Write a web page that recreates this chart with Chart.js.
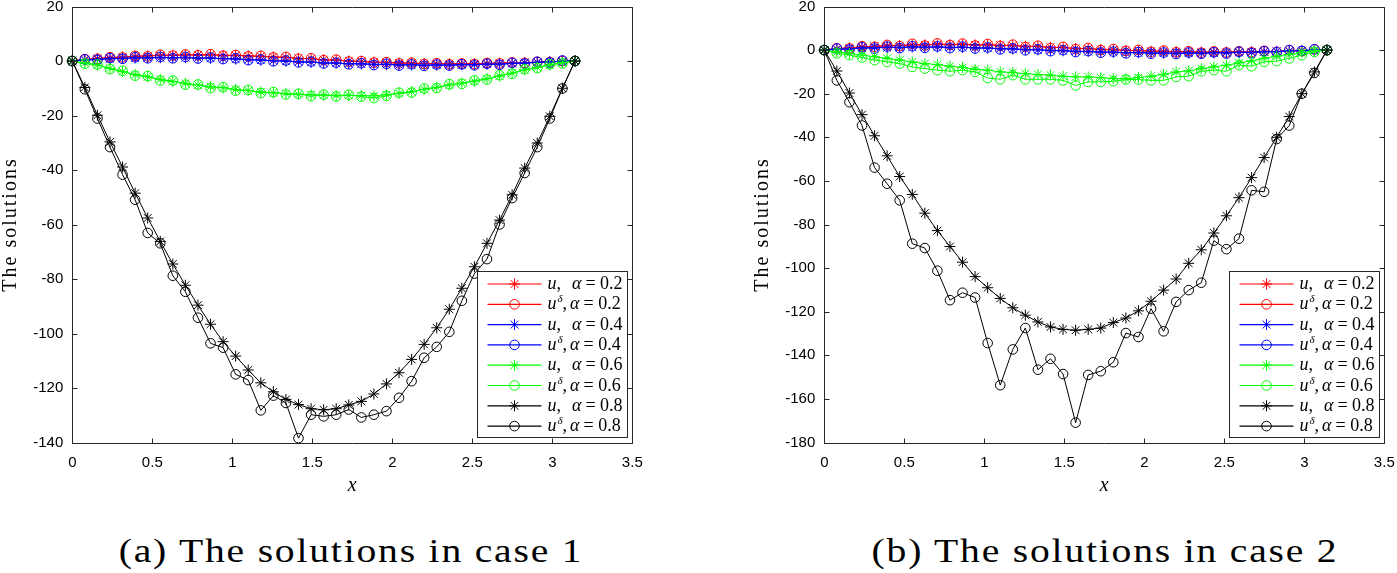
<!DOCTYPE html>
<html>
<head>
<meta charset="utf-8">
<script src="https://cdn.jsdelivr.net/npm/chart.js@4/dist/chart.umd.min.js"></script>
<style>
  body { margin: 0; background: #fff; width: 1397px; height: 573px; overflow: hidden; position: relative; }
  .plot { position: absolute; top: 0; height: 500px; }
  #wrapA { left: 0; width: 680px; }
  #wrapB { left: 752px; width: 645px; }
  .cap { position: absolute; top: 533px; font-family: "Liberation Serif", serif; font-size: 33px; line-height: 36px;
         letter-spacing: 1.5px; white-space: nowrap; transform: translateX(-50%) scaleX(1.2); color: #000; }
</style>
</head>
<body>
<div class="plot" id="wrapA"><canvas id="chartA"></canvas></div>
<div class="plot" id="wrapB"><canvas id="chartB"></canvas></div>
<div class="cap" style="left:351px">(a) The solutions in case 1</div>
<div class="cap" style="left:1105px">(b) The solutions in case 2</div>
<script>
// grid points x_k = k*pi/40, k = 0..40
const xs = [0, 0.0785, 0.1571, 0.2356, 0.3142, 0.3927, 0.4712, 0.5498, 0.6283, 0.7069, 0.7854,
  0.8639, 0.9425, 1.0210, 1.0996, 1.1781, 1.2566, 1.3352, 1.4137, 1.4923, 1.5708,
  1.6493, 1.7279, 1.8064, 1.8850, 1.9635, 2.0420, 2.1206, 2.1991, 2.2777, 2.3562,
  2.4347, 2.5133, 2.5918, 2.6704, 2.7489, 2.8274, 2.9060, 2.9845, 3.0631, 3.1416];

const labels = ['0.2', '0.2', '0.4', '0.4', '0.6', '0.6', '0.8', '0.8'];
const colors = ['#ff0000', '#ff0000', '#0000ff', '#0000ff', '#00ff00', '#00ff00', '#000000', '#000000'];

// case 1
const a_u02 = [0, 0.5, 0.9, 1.2, 1.5, 1.7, 1.9, 2.0, 2.1, 2.2, 2.2, 2.2, 2.1, 2.0, 1.9, 1.7, 1.5, 1.3, 1.0, 0.8, 0.5,
  0.3, 0.0, -0.2, -0.4, -0.6, -0.7, -0.8, -0.9, -1.0, -1.0, -1.0, -1.0, -0.9, -0.8, -0.7, -0.6, -0.5, -0.3, -0.2, 0];
const a_ud02 = [0, 0.7, 0.8, 1.4, 1.3, 1.9, 1.7, 2.3, 2.0, 2.4, 2.1, 2.5, 1.9, 2.2, 1.7, 1.9, 1.3, 1.5, 0.8, 1.0, 0.3,
  0.5, -0.2, 0.0, -0.6, -0.4, -0.9, -0.6, -1.1, -0.8, -1.2, -0.9, -1.1, -0.7, -0.9, -0.5, -0.7, -0.3, -0.4, 0.0, 0];
const a_u04 = [0, 0.3, 0.6, 0.8, 1.0, 1.1, 1.2, 1.2, 1.2, 1.2, 1.1, 1.0, 0.9, 0.7, 0.5, 0.3, 0.1, -0.1, -0.3, -0.5, -0.7,
  -0.8, -1.0, -1.1, -1.2, -1.3, -1.4, -1.4, -1.5, -1.5, -1.5, -1.4, -1.3, -1.2, -1.1, -0.9, -0.7, -0.5, -0.3, -0.1, 0];
const a_ud04 = [0, 0.6, 0.4, 1.1, 0.8, 1.4, 1.0, 1.5, 1.0, 1.5, 0.9, 1.3, 0.7, 1.0, 0.3, 0.6, -0.1, 0.2, -0.5, -0.2, -0.9,
  -0.6, -1.2, -0.8, -1.5, -1.0, -1.7, -1.2, -1.8, -1.3, -1.7, -1.2, -1.6, -1.0, -1.4, -0.7, -1.0, -0.3, -0.6, 0.2, 0];
const a_u06 = [0, -0.7, -1.5, -2.7, -3.9, -5.0, -5.8, -6.7, -7.5, -8.2, -8.8, -9.4, -9.8, -10.4, -10.9, -11.3, -11.7, -11.9, -12.2, -12.4, -12.5,
  -12.6, -12.6, -12.7, -12.8, -12.4, -11.9, -11.2, -10.4, -9.6, -8.8, -8.1, -7.4, -6.5, -5.5, -4.4, -3.3, -2.3, -1.5, -0.6, 0];
const a_ud06 = [0, -1.0, -1.3, -3.0, -3.6, -5.4, -5.5, -7.2, -7.2, -8.7, -8.6, -10.0, -9.6, -10.9, -10.6, -11.8, -11.4, -12.3, -12.0, -12.9, -12.3,
  -13.0, -12.4, -13.1, -13.6, -12.8, -11.6, -11.6, -10.1, -9.9, -8.5, -8.4, -7.1, -6.8, -5.2, -4.7, -3.0, -2.6, -1.2, -0.9, 0];
const a_u08 = [0, -9.7, -19.9, -29.7, -38.9, -48.5, -57.6, -66.2, -74.5, -82.3, -89.6, -96.6, -103.0, -108.3, -113.4, -118.1, -121.4, -124.2, -126.1, -127.6, -128.0,
  -127.6, -126.2, -124.9, -122.2, -118.5, -114.4, -109.5, -104.0, -97.9, -91.1, -83.4, -75.5, -66.9, -58.4, -49.1, -39.3, -30.1, -20.3, -10.0, 0];
const a_ud08 = [0, -10.4, -21.1, -31.6, -41.7, -50.9, -63.1, -66.9, -78.8, -84.7, -94.2, -103.6, -105.2, -115.0, -117.1, -128.2, -122.8, -125.5, -138.4, -129.8, -130.4,
  -129.8, -127.9, -130.8, -129.8, -128.5, -123.6, -117.5, -108.9, -104.9, -99.4, -88.0, -78.0, -72.7, -60.0, -50.3, -41.1, -31.6, -21.1, -10.1, 0];

// case 2
const b_u02 = [0, 0.6, 1.0, 1.4, 1.7, 1.9, 2.1, 2.3, 2.4, 2.5, 2.5, 2.5, 2.4, 2.3, 2.2, 2.0, 1.8, 1.6, 1.3, 1.1, 0.8,
  0.6, 0.3, 0.1, -0.1, -0.3, -0.5, -0.6, -0.7, -0.8, -0.9, -0.9, -0.9, -0.9, -0.8, -0.7, -0.6, -0.5, -0.3, -0.2, 0];
const b_ud02 = [0, 0.9, 0.8, 1.8, 1.5, 2.4, 1.8, 2.9, 2.1, 3.1, 2.3, 3.0, 2.1, 2.8, 1.9, 2.5, 1.4, 2.0, 0.9, 1.5, 0.4,
  1.0, 0.0, 0.5, -0.4, 0.1, -0.8, -0.2, -1.0, -0.5, -1.2, -0.6, -1.1, -0.5, -1.0, -0.3, -0.8, 0.0, -0.5, 0.3, 0];
const b_u04 = [0, 0.3, 0.6, 0.9, 1.1, 1.2, 1.3, 1.4, 1.4, 1.4, 1.3, 1.2, 1.1, 0.9, 0.7, 0.5, 0.3, 0.1, -0.1, -0.3, -0.5,
  -0.7, -0.8, -1.0, -1.1, -1.2, -1.3, -1.4, -1.4, -1.4, -1.4, -1.3, -1.2, -1.1, -1.0, -0.8, -0.6, -0.4, -0.2, -0.1, 0];
const b_ud04 = [0, 0.7, 0.2, 1.3, 0.7, 1.6, 0.9, 1.8, 1.0, 1.7, 0.9, 1.6, 0.7, 1.2, 0.3, 0.8, -0.1, 0.4, -0.5, 0.0, -0.9,
  -0.4, -1.2, -0.7, -1.5, -0.9, -1.7, -1.1, -1.8, -1.1, -1.7, -1.0, -1.6, -0.8, -1.4, -0.5, -1.0, 0.0, -0.4, 0.4, 0];
const b_u06 = [0, -0.8, -1.5, -2.3, -3.1, -3.8, -4.6, -5.4, -6.2, -6.6, -7.4, -8.0, -8.8, -9.2, -10.0, -10.3, -10.8, -11.2, -11.5, -12.0, -12.3,
  -12.3, -12.6, -13.1, -13.1, -12.6, -12.0, -11.1, -10.0, -9.5, -8.5, -7.7, -6.9, -5.9, -4.9, -3.8, -2.8, -2.0, -1.1, -0.3, 0];
const b_ud06 = [0, -1.5, -2.3, -3.4, -4.6, -5.4, -6.2, -7.7, -8.5, -9.2, -9.7, -9.2, -10.0, -12.8, -13.4, -11.5, -13.4, -13.4, -13.4, -13.9, -16.2,
  -14.6, -14.6, -14.3, -13.5, -13.5, -13.9, -13.9, -12.3, -12.0, -9.7, -9.2, -9.7, -6.9, -7.4, -5.4, -5.1, -3.8, -2.3, -0.8, 0];
const b_u08 = [0, -9.6, -19.7, -29.6, -39.3, -48.5, -58.0, -66.2, -74.8, -82.8, -90.1, -97.3, -103.9, -109.0, -113.9, -118.2, -121.6, -124.7, -127.0, -128.1, -128.5,
  -128.1, -127.5, -125.0, -122.9, -119.6, -115.2, -110.1, -105.0, -97.8, -91.6, -83.9, -76.0, -67.7, -58.5, -49.3, -40.0, -30.5, -20.0, -10.0, 0];
const b_ud08 = [0, -13.9, -23.9, -34.6, -53.9, -61.3, -68.9, -88.8, -90.8, -101.2, -114.7, -111.3, -113.5, -134.4, -153.7, -137.3, -127.5, -146.6, -141.6, -148.6, -170.9,
  -149.0, -147.3, -143.2, -129.8, -131.6, -118.6, -129.0, -115.5, -110.1, -106.7, -87.4, -91.3, -86.5, -64.3, -65.0, -40.8, -34.6, -20.0, -10.5, 0];

const AXIS = '#262626';

// box round the axes with inward ticks on all four sides, plus the axis titles
const frame = {
  id: 'frame',
  afterDatasetsDraw(chart) {
    const { ctx, chartArea: a, scales: { x, y } } = chart;
    const r = v => Math.round(v) + 0.5;
    ctx.save();
    ctx.strokeStyle = AXIS;
    ctx.lineWidth = 1;
    ctx.beginPath();
    ctx.rect(r(a.left), r(a.top), Math.round(a.right - a.left), Math.round(a.bottom - a.top));
    x.ticks.forEach(t => {
      const p = r(x.getPixelForValue(t.value));
      ctx.moveTo(p, r(a.bottom)); ctx.lineTo(p, r(a.bottom) - 5);
      ctx.moveTo(p, r(a.top)); ctx.lineTo(p, r(a.top) + 5);
    });
    y.ticks.forEach(t => {
      const p = r(y.getPixelForValue(t.value));
      ctx.moveTo(r(a.left), p); ctx.lineTo(r(a.left) + 5, p);
      ctx.moveTo(r(a.right), p); ctx.lineTo(r(a.right) - 5, p);
    });
    ctx.stroke();

    ctx.fillStyle = '#000';
    ctx.textAlign = 'center';
    ctx.textBaseline = 'middle';
    ctx.font = 'italic 20px "Liberation Serif"';
    ctx.fillText('x', (a.left + a.right) / 2, 486);
    ctx.translate(11, (a.top + a.bottom) / 2);
    ctx.rotate(-Math.PI / 2);
    ctx.font = '20px "Liberation Serif"';
    ctx.letterSpacing = '2px';
    ctx.fillText('The solutions', 0, 0);
    ctx.restore();
  }
};

// MATLAB style legend inside the lower right corner
const boxLegend = {
  id: 'boxLegend',
  afterDraw(chart) {
    const { ctx, chartArea: a } = chart;
    const w = 150, h = 166;
    const bx = Math.round(a.right - 5 - w) + 0.5, by = Math.round(a.bottom - 5.5 - h) + 0.5;
    ctx.save();
    ctx.fillStyle = '#fff';
    ctx.fillRect(bx, by, w, h);
    ctx.strokeStyle = AXIS;
    ctx.lineWidth = 1;
    ctx.strokeRect(bx, by, w, h);
    chart.data.datasets.forEach((ds, i) => {
      const yy = by + 12.5 + i * 20.3;
      ctx.strokeStyle = ds.borderColor;
      ctx.lineWidth = 1.2;
      ctx.beginPath();
      ctx.moveTo(bx + 10, yy); ctx.lineTo(bx + 64, yy);
      ctx.stroke();
      ctx.fillStyle = 'rgba(0,0,0,0)';
      ctx.lineWidth = 1;
      Chart.helpers.drawPoint(ctx, { pointStyle: ds.pointStyle, radius: ds.pointRadius, rotation: 0, borderWidth: 1 }, bx + 37, yy);
      // text: u, alpha = ...
      let tx = bx + 70;
      const base = yy + 5;
      ctx.fillStyle = '#000';
      ctx.textBaseline = 'alphabetic';
      ctx.font = 'italic 18px "Liberation Serif"';
      ctx.fillText('u', tx, base);
      tx += ctx.measureText('u').width;
      if (ds.pointStyle === 'circle') {
        ctx.font = 'italic 11px "Liberation Serif"';
        ctx.fillText('\u03b4', tx + 1, base - 7);
        tx += ctx.measureText('\u03b4').width + 1;
      }
      ctx.font = '18px "Liberation Serif"';
      ctx.fillText(',', tx, base);
      tx += ctx.measureText(',').width + (ds.pointStyle === 'circle' ? 3 : 11);
      ctx.font = 'italic 18px "Liberation Serif"';
      ctx.fillText('\u03b1', tx, base);
      tx += ctx.measureText('\u03b1').width + 4;
      ctx.font = '18px "Liberation Serif"';
      ctx.fillText('= ' + labels[i], tx, base);
    });
    ctx.restore();
  }
};

function makeChart(id, series, yMin, padRight) {
  const datasets = series.map((vals, i) => ({
    label: (i % 2 ? 'u\u03b4' : 'u') + ', \u03b1 = ' + labels[i],
    data: xs.map((x, k) => ({ x, y: vals[k] })),
    borderColor: colors[i],
    borderWidth: 1,
    pointStyle: i % 2 ? 'circle' : 'star',
    pointRadius: i % 2 ? 4.8 : 5.5,
    pointBorderWidth: 1,
    pointBorderColor: colors[i],
    pointBackgroundColor: 'rgba(0,0,0,0)',
    tension: 0,
    clip: false,
    order: 7 - i
  }));
  return new Chart(document.getElementById(id), {
    type: 'line',
    data: { datasets },
    plugins: [frame, boxLegend],
    options: {
      responsive: true,
      maintainAspectRatio: false,
      animation: false,
      events: [],
      layout: { padding: { top: 6.5, right: padRight, bottom: 0, left: 0 } },
      plugins: { legend: { display: false }, tooltip: { enabled: false } },
      scales: {
        x: {
          type: 'linear', min: 0, max: 3.5,
          grid: { display: false, drawTicks: false },
          border: { display: false },
          ticks: { stepSize: 0.5, padding: 11, color: '#000', callback: v => String(v),
                   font: { family: '"Liberation Sans", Arial', size: 15 } },
          afterFit: s => { s.height = 57.5; s.paddingLeft = 0; s.paddingRight = 0; }
        },
        y: {
          min: yMin, max: 20,
          grid: { display: false, drawTicks: false },
          border: { display: false },
          ticks: { stepSize: 20, padding: 9, color: '#000', callback: v => String(v),
                   font: { family: '"Liberation Sans", Arial', size: 15, lineHeight: 1 } },
          afterFit: s => { s.width = 72.3; s.paddingTop = 0; s.paddingBottom = 0; }
        }
      }
    }
  });
}

makeChart('chartA', [a_u02, a_ud02, a_u04, a_ud04, a_u06, a_ud06, a_u08, a_ud08], -140, 47.7);
makeChart('chartB', [b_u02, b_ud02, b_u04, b_ud04, b_u06, b_ud06, b_u08, b_ud08], -180, 12.7);
</script>
</body>
</html>
